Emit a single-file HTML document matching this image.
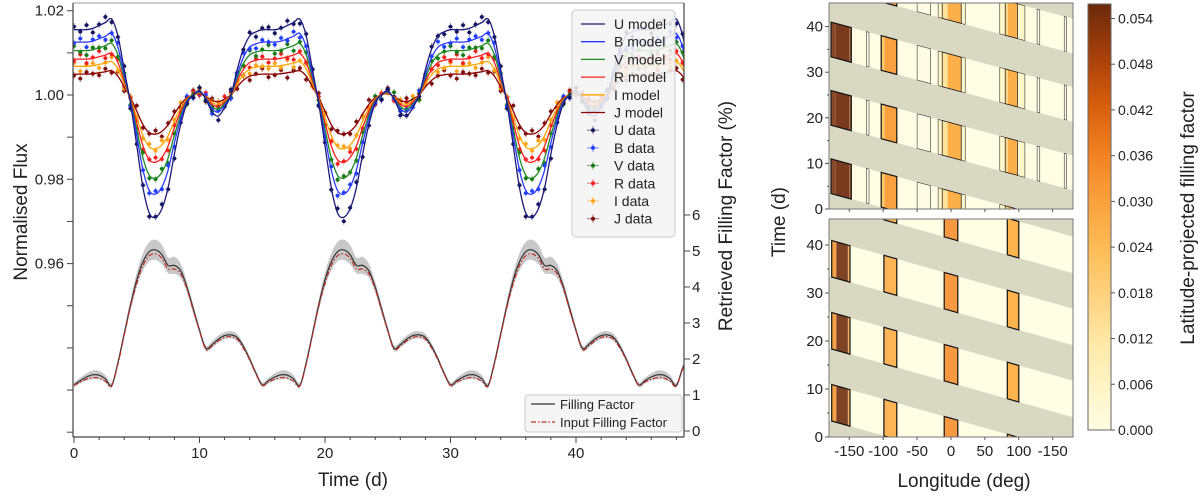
<!DOCTYPE html>
<html><head><meta charset="utf-8"><style>
html,body{margin:0;padding:0;background:#fff;width:1200px;height:498px;overflow:hidden}
svg{display:block;font-family:"Liberation Sans",sans-serif}
</style></head><body>
<svg id="fig" width="1200" height="498" viewBox="0 0 1200 498">
<defs>
<clipPath id="clipL"><rect x="73" y="3" width="611" height="434"/></clipPath>
<clipPath id="clipT"><rect x="829" y="3" width="244" height="206"/></clipPath>
<clipPath id="clipB"><rect x="829" y="219" width="244" height="218"/></clipPath>
<linearGradient id="cbg" x1="0" y1="1" x2="0" y2="0">
<stop offset="0" stop-color="#fffde3"/><stop offset="0.2" stop-color="#feeaa8"/>
<stop offset="0.43" stop-color="#fdbb55"/><stop offset="0.55" stop-color="#fa9d3a"/>
<stop offset="0.66" stop-color="#ef7e20"/><stop offset="0.77" stop-color="#d45c0c"/>
<stop offset="0.88" stop-color="#a63f0b"/><stop offset="1" stop-color="#6a2a0c"/>
</linearGradient>
</defs>
<g id="left"></g>
<g id="right"></g>
</svg>
<script>
const NS='http://www.w3.org/2000/svg';
// ---------- data ----------
const times=[0,0.5,1,1.5,2,2.5,3,3.5,4,4.5,5,5.5,6,6.5,7,7.5,8,8.5,9,9.5,10,10.5,11,11.5,12,12.5,13,13.5,14,14.5,15,15.5,16,16.5,17,17.5,18,18.5,19,19.5,20,20.5,21,21.5,22,22.5,23,23.5,24,24.5,25,25.5,26,26.5,27,27.5,28,28.5,29,29.5,30,30.5,31,31.5,32,32.5,33,33.5,34,34.5,35,35.5,36,36.5,37,37.5,38,38.5,39,39.5,40,40.5,41,41.5,42,42.5,43,43.5,44,44.5,45,45.5,46,46.5,47,47.5,48,48.5,49];
const uModel=[1.0155,1.0155,1.0155,1.0158,1.0165,1.0172,1.018,1.014,1.006,0.998,0.988,0.978,0.972,0.971,0.973,0.978,0.986,0.993,0.998,1.000,1.001,0.999,0.996,0.995,0.997,1.000,1.006,1.011,1.014,1.015,
1.0155,1.0155,1.0155,1.0158,1.0165,1.0172,1.018,1.014,1.006,0.998,0.988,0.978,0.972,0.971,0.973,0.978,0.986,0.993,0.998,1.000,1.001,0.999,0.996,0.995,0.997,1.000,1.006,1.011,1.014,1.015,
1.0155,1.0155,1.0155,1.0158,1.0165,1.0172,1.018,1.014,1.006,0.998,0.988,0.978,0.972,0.971,0.973,0.978,0.986,0.993,0.998,1.000,1.001,0.999,0.996,0.995,0.997,1.000,1.006,1.011,1.014,1.015,
1.0155,1.0155,1.0155,1.0158,1.0165,1.0172,1.018,1.014,1.006];
const bandNames=['U','B','V','R','I','J'];
const bandScale=[1.0,0.81,0.68,0.55,0.44,0.32];
const modelColors=['#1c1c78','#2b3bff','#228b22','#ff2020','#ffa500','#8b0000'];
const dataColors=['#14145e','#1f3fff','#137a13','#f02020','#ffa31a','#7a1010'];
const resid=[0.6,-0.4,0.9,-0.8,0.2,1.1,-0.6,-0.2,0.7,-1.0,0.3,0.5,-0.7,0.1,0.9,-0.3,-0.9,0.4,0.0,-0.5];
const ffRet=[1.28,1.40,1.50,1.56,1.55,1.45,1.27,1.9,2.7,3.5,4.2,4.7,4.98,5.03,4.9,4.6,4.6,4.45,4.0,3.4,2.8,2.3,2.4,2.55,2.65,2.67,2.6,2.35,2.0,1.6,
1.28,1.40,1.50,1.56,1.55,1.45,1.27,1.9,2.7,3.5,4.2,4.7,4.98,5.03,4.9,4.6,4.6,4.45,4.0,3.4,2.8,2.3,2.4,2.55,2.65,2.67,2.6,2.35,2.0,1.6,
1.28,1.40,1.50,1.56,1.55,1.45,1.27,1.9,2.7,3.5,4.2,4.7,4.98,5.03,4.9,4.6,4.6,4.45,4.0,3.4,2.8,2.3,2.4,2.55,2.65,2.67,2.6,2.35,2.0,1.6,
1.28,1.40,1.50,1.56,1.55,1.45,1.27,1.75,2.1];
const ffIn=[1.27,1.36,1.44,1.48,1.47,1.38,1.25,1.85,2.65,3.45,4.1,4.6,4.87,4.92,4.8,4.5,4.5,4.37,3.95,3.35,2.78,2.27,2.36,2.5,2.6,2.62,2.55,2.3,1.97,1.58,
1.27,1.36,1.44,1.48,1.47,1.38,1.25,1.85,2.65,3.45,4.1,4.6,4.87,4.92,4.8,4.5,4.5,4.37,3.95,3.35,2.78,2.27,2.36,2.5,2.6,2.62,2.55,2.3,1.97,1.58,
1.27,1.36,1.44,1.48,1.47,1.38,1.25,1.85,2.65,3.45,4.1,4.6,4.87,4.92,4.8,4.5,4.5,4.37,3.95,3.35,2.78,2.27,2.36,2.5,2.6,2.62,2.55,2.3,1.97,1.58,
1.27,1.36,1.44,1.48,1.47,1.38,1.25,1.72,2.05];
const ffErr=[0.07,0.08,0.1,0.12,0.12,0.1,0.07,0.08,0.1,0.15,0.2,0.24,0.27,0.28,0.27,0.22,0.24,0.2,0.15,0.12,0.1,0.08,0.09,0.1,0.1,0.1,0.1,0.08,0.07,0.07,
0.07,0.08,0.1,0.12,0.12,0.1,0.07,0.08,0.1,0.15,0.2,0.24,0.27,0.28,0.27,0.22,0.24,0.2,0.15,0.12,0.1,0.08,0.09,0.1,0.1,0.1,0.1,0.08,0.07,0.07,
0.07,0.08,0.1,0.12,0.12,0.1,0.07,0.08,0.1,0.15,0.2,0.24,0.27,0.28,0.27,0.22,0.24,0.2,0.15,0.12,0.1,0.08,0.09,0.1,0.1,0.1,0.1,0.08,0.07,0.07,
0.07,0.08,0.1,0.12,0.12,0.1,0.07,0.08,0.1];
const timeTicks=[0,10,20,30,40];
const fluxTicks=[1.02,1.00,0.98,0.96];
const fluxTickLabels=['1.02','1.00','0.98','0.96'];
const ffTicks=[0,1,2,3,4,5,6];
const lonTicks=[-150,-100,-50,0,50,100,150];
const lonTickLabels=['-150','-100','-50','0','50','100','-150'];
const mapTimeTicks=[0,10,20,30,40];
const cbTicks=[0.000,0.006,0.012,0.018,0.024,0.030,0.036,0.042,0.048,0.054];
const cbTickLabels=['0.000','0.006','0.012','0.018','0.024','0.030','0.036','0.042','0.048','0.054'];
const windowStart=[-11.5,3.5,18.5,33.5,48.5];
const windowLen=7.6;
const windowSlope=0.04;
const inputStrips=[[-176,-169,'#f6a04a'],[-169,-152,'#7e4225'],[-152,-149,'#f6b060'],[-99,-80,'#fdb456'],[-10,10,'#f99a42'],[83,100,'#fdb44e']];
const inputOutlines=[[-176,-149],[-99,-80],[-10,10],[83,100]];
const retStrips=[[-177,-170,'#8a4a2a'],[-170,-150,'#7a3a1e'],[-150,-147,'#a0603a'],[-125,-121,'#fffbe6'],[-103,-98,'#fbc86a'],[-98,-80,'#f9a040'],[-50,-30,'#fffce6'],[-19,-13,'#fff6cc'],[-13,-5,'#fde49a'],[-5,15,'#fbb04a'],[15,21,'#fff6cc'],[72,80,'#fff6cc'],[80,84,'#fdd68a'],[84,98,'#fbb04a'],[98,109,'#fff6cc'],[127,131,'#fffbe6'],[167,170,'#fffbe6']];
const retOutlines=[[-177,-147,1.2],[-125,-121,0.5],[-103,-80,1.2],[-50,-30,0.5],[-19,21,0.5],[-13,15,0.7],[72,109,0.5],[80,98,0.7],[127,131,0.5],[167,170,0.5]];
const cbMax=0.0559;

// ---------- scales ----------
const X=t=>74+12.55*t;
const YF=f=>95-(f-1)*4215;
const YP=p=>431-36*p;
const XL=l=>951+0.678*l;
const YT=t=>209-4.56*t;
const YB=t=>437-4.8*t;
const YC=v=>430-v/cbMax*426;

function mk(tag,attrs,parent){const e=document.createElementNS(NS,tag);for(const k in attrs)e.setAttribute(k,attrs[k]);parent.appendChild(e);return e;}
function txt(s,attrs,parent){const e=mk('text',attrs,parent);e.textContent=s;return e;}
function smooth(pts){let d='M'+pts[0][0].toFixed(1)+','+pts[0][1].toFixed(1);
 for(let i=0;i<pts.length-1;i++){const p0=pts[Math.max(0,i-1)],p1=pts[i],p2=pts[i+1],p3=pts[Math.min(pts.length-1,i+2)];
 const c1=[p1[0]+(p2[0]-p0[0])/6,p1[1]+(p2[1]-p0[1])/6],c2=[p2[0]-(p3[0]-p1[0])/6,p2[1]-(p3[1]-p1[1])/6];
 d+='C'+c1[0].toFixed(1)+','+c1[1].toFixed(1)+' '+c2[0].toFixed(1)+','+c2[1].toFixed(1)+' '+p2[0].toFixed(1)+','+p2[1].toFixed(1);}
 return d;}

const L=document.getElementById('left');
const plot=mk('g',{'clip-path':'url(#clipL)'},L);


const up=times.map((t,i)=>[X(t),YP(ffRet[i]+ffErr[i])]);
const lo=times.map((t,i)=>[X(t),YP(ffRet[i]-ffErr[i])]).reverse();
const band=mk('path',{d:smooth(up)+'L'+smooth(lo).slice(1)+'Z',fill:'#c8c8c8'},plot);


const ffl=mk('path',{d:smooth(times.map((t,i)=>[X(t),YP(ffRet[i])])),fill:'none',stroke:'#333','stroke-width':1.2},plot);


const ffi=mk('path',{d:smooth(times.map((t,i)=>[X(t),YP(ffIn[i])])),fill:'none',stroke:'#c0302a','stroke-width':1.2,'stroke-dasharray':'5,2,1.5,2'},plot);


for(let b=bandNames.length-1;b>=0;b--){
 const g=mk('g',{},plot);
 
 
 times.forEach((t,i)=>{
  const v=1+bandScale[b]*(uModel[i]-1)+resid[(i+b*7)%resid.length]*0.0012;
  const x=X(t),y=YF(v);
  mk('line',{x1:x,x2:x,y1:y-3.5,y2:y+3.5,stroke:dataColors[b],'stroke-opacity':0.5,'stroke-width':1},g);
  mk('line',{x1:x-2.5,x2:x+2.5,y1:y,y2:y,stroke:dataColors[b],'stroke-opacity':0.5,'stroke-width':1},g);
  mk('circle',{cx:x,cy:y,r:1.9,fill:dataColors[b]},g);
 });
}
for(let b=bandNames.length-1;b>=0;b--){
 const p=mk('path',{d:smooth(times.map((t,i)=>[X(t),YF(1+bandScale[b]*(uModel[i]-1))])),fill:'none',stroke:modelColors[b],'stroke-width':1.3},plot);
 
 
}
mk('line',{x1:73,y1:3,x2:684,y2:3,stroke:'#999','stroke-width':1},L);
mk('line',{x1:73,y1:3,x2:73,y2:437,stroke:'#444','stroke-width':1.2},L);
mk('line',{x1:73,y1:437,x2:684,y2:437,stroke:'#444','stroke-width':1.2},L);
mk('line',{x1:684,y1:3,x2:684,y2:437,stroke:'#444','stroke-width':1.2},L);
for(let t=0;t<=48;t+=2){mk('line',{x1:X(t),x2:X(t),y1:437,y2:t%10===0?443:440,stroke:'#444'},L);}
timeTicks.forEach(t=>{const e=txt(String(t),{x:X(t),y:458,'font-size':15,'text-anchor':'middle',fill:'#222'},L);
 });
const xt=txt('Time (d)',{x:353,y:486,'font-size':19,'text-anchor':'middle',fill:'#222'},L);

for(let f=0.92;f<=1.021;f+=0.01){const y=YF(f);mk('line',{x1:67,x2:73,y1:y,y2:y,stroke:'#444'},L);}
fluxTicks.forEach((f,i)=>{const e=txt(fluxTickLabels[i],{x:64,y:YF(f)+5,'font-size':15,'text-anchor':'end',fill:'#222'},L);
 });
const yt=txt('Normalised Flux',{x:0,y:0,'font-size':19,'text-anchor':'middle',fill:'#222',transform:'translate(27,212) rotate(-90)'},L);

ffTicks.forEach(p=>{mk('line',{x1:684,x2:690,y1:YP(p),y2:YP(p),stroke:'#444'},L);
 const e=txt(String(p),{x:692,y:YP(p)+5,'font-size':15,fill:'#222'},L);
 });
const yt2=txt('Retrieved Filling Factor (%)',{x:0,y:0,'font-size':19,'text-anchor':'middle',fill:'#222',transform:'translate(732,216) rotate(-90)'},L);

const lg=mk('g',{},L);

mk('rect',{x:572,y:10,width:103,height:227,rx:4,fill:'#f4f4f4','fill-opacity':0.88,stroke:'#ccc'},lg);
for(let i=0;i<12;i++){
 const y=24+i*17.7;const b=i%6;const isData=i>=6;
 const e=mk('g',{},lg);
 
 if(!isData){mk('line',{x1:581,x2:605,y1:y,y2:y,stroke:modelColors[b],'stroke-width':1.3},e);}
 else{mk('line',{x1:587,x2:599,y1:y,y2:y,stroke:dataColors[b],'stroke-opacity':0.6},e);
  mk('line',{x1:593,x2:593,y1:y-4,y2:y+4,stroke:dataColors[b],'stroke-opacity':0.6},e);
  mk('circle',{cx:593,cy:y,r:2,fill:dataColors[b]},e);}
 txt(bandNames[b]+(isData?' data':' model'),{x:614,y:y+5,'font-size':14,fill:'#222'},e);
}
const lg2=mk('g',{},L);

mk('rect',{x:525,y:395,width:157,height:37,rx:3,fill:'#f4f4f4','fill-opacity':0.9,stroke:'#ccc'},lg2);
mk('line',{x1:531,x2:555,y1:404,y2:404,stroke:'#333','stroke-width':1.2},lg2);
mk('line',{x1:531,x2:555,y1:422,y2:422,stroke:'#c0302a','stroke-width':1.2,'stroke-dasharray':'5,2,1.5,2'},lg2);
txt('Filling Factor',{x:560,y:409,'font-size':13,fill:'#222'},lg2);
txt('Input Filling Factor',{x:560,y:427,'font-size':13,fill:'#222'},lg2);

const R=document.getElementById('right');
function drawMap(Y,clip,strips,outlines,y0,y1,name,outlineW){
 const g=mk('g',{'clip-path':'url(#'+clip+')'},R);
 
 mk('rect',{x:829,y:y0,width:244,height:y1-y0,fill:'#d9d8c3'},g);
 const poly=(a,b,lo,hi)=>[[XL(a),Y(lo-windowSlope*(a+180))],[XL(b),Y(lo-windowSlope*(b+180))],[XL(b),Y(hi-windowSlope*(b+180))],[XL(a),Y(hi-windowSlope*(a+180))]].map(p=>p[0].toFixed(1)+','+p[1].toFixed(1)).join(' ');
 windowStart.forEach(s=>{
  mk('polygon',{points:poly(-180,180,s,s+windowLen),fill:'#fffde3'},g);
  strips.forEach(st=>{const e=mk('polygon',{points:poly(st[0],st[1],s,s+windowLen),fill:st[2]},g);
   });
  outlines.forEach(o=>{mk('polygon',{points:poly(o[0],o[1],s,s+windowLen),fill:'none',stroke:'#111','stroke-width':o[2]||outlineW},g);});
 });
 mk('rect',{x:829,y:y0,width:244,height:y1-y0,fill:'none',stroke:'#777','stroke-width':1},R);
 mapTimeTicks.forEach(t=>{mk('line',{x1:825,x2:829,y1:Y(t),y2:Y(t),stroke:'#555'},R);
  const e=txt(String(t),{x:823,y:Y(t)+5,'font-size':15,'text-anchor':'end',fill:'#222'},R);
  });
 for(let t=5;t<45;t+=10)mk('line',{x1:827,x2:829,y1:Y(t),y2:Y(t),stroke:'#555'},R);
 lonTicks.forEach(l=>mk('line',{x1:XL(l),x2:XL(l),y1:y1,y2:y1+3,stroke:'#555'},R));
}
drawMap(YT,'clipT',retStrips,retOutlines,3,209,'retrieved-spot-map',0.5);
drawMap(YB,'clipB',inputStrips,inputOutlines,219,437,'input-spot-map',1.2);
lonTicks.forEach((l,i)=>{const e=txt(lonTickLabels[i],{x:XL(l),y:456,'font-size':15,'text-anchor':'middle',fill:'#222'},R);
 });
const lt=txt('Longitude (deg)',{x:964,y:487,'font-size':19,'text-anchor':'middle',fill:'#222'},R);

const tt=txt('Time (d)',{x:0,y:0,'font-size':19,'text-anchor':'middle',fill:'#222',transform:'translate(785,222) rotate(-90)'},R);

const cb=mk('g',{},R);

mk('rect',{x:1088,y:4,width:23,height:426,fill:'url(#cbg)',stroke:'#666'},cb);
cbTicks.forEach((v,i)=>{mk('line',{x1:1111,x2:1115,y1:YC(v),y2:YC(v),stroke:'#555'},cb);
 const e=txt(cbTickLabels[i],{x:1118,y:YC(v)+5,'font-size':14,fill:'#222'},cb);
 });
const ct=txt('Latitude-projected filling factor',{x:0,y:0,'font-size':19,'text-anchor':'middle',fill:'#222',transform:'translate(1194,218) rotate(-90)'},R);

</script>
</body></html>
